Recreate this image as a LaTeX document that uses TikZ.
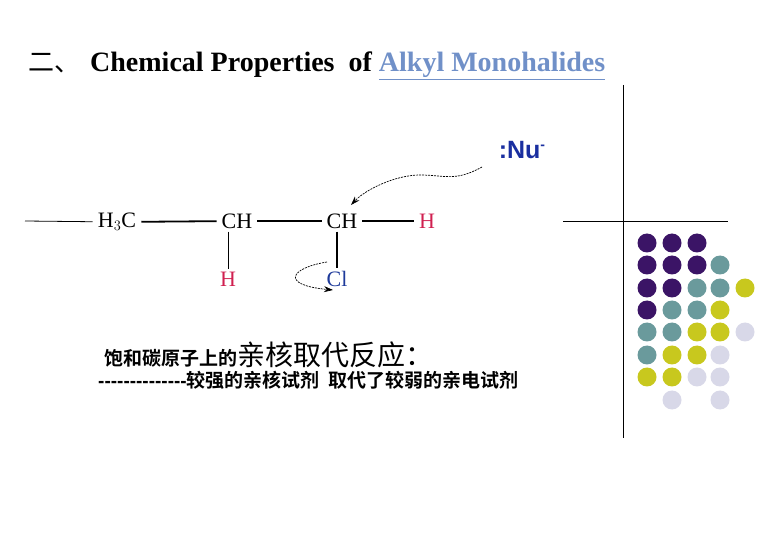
\documentclass[tikz,border=0pt]{standalone}
\usepackage{fontspec}
\setmainfont{Liberation Serif}
\newfontfamily\cjk{Noto Sans CJK SC}
\newfontfamily\cjkb{Noto Sans CJK SC}[BoldFont={* Bold}]
\newfontfamily\arial{Liberation Sans}
\usetikzlibrary{arrows.meta}
\definecolor{pur}{HTML}{3B1466}
\definecolor{tea}{HTML}{6A9A9C}
\definecolor{yel}{HTML}{C8C81E}
\definecolor{lav}{HTML}{D8D8E8}
\definecolor{hred}{HTML}{D02050}
\definecolor{clb}{HTML}{1E3A9A}
\definecolor{nub}{HTML}{1A2FA0}
\definecolor{lnk}{HTML}{7090C8}
\tikzset{atom/.style={inner xsep=5pt,inner ysep=3pt,font=\fontsize{22}{22}\selectfont},
bond/.style={line width=1.8pt},thin bond/.style={line width=0.8pt},
dot/.style={circle,minimum size=19pt,inner sep=0pt}}
\begin{document}
\begin{tikzpicture}[x=1pt,y=-1pt]
\useasboundingbox (0,0) rectangle (780,540);
\node[anchor=west,inner sep=0] (title) at (28,66) {{\cjk\fontsize{26}{26}\selectfont 二、}\hspace{10pt}\fontsize{28}{28}\selectfont\bfseries Chemical Properties\ \ of \textcolor{lnk}{\underline{Alkyl Monohalides}}};
\draw[line width=0.7pt] (623,85) -- (623,438);
\draw[line width=0.7pt] (563,221) -- (728,221);
% molecule
\coordinate (L) at (25,221);
\node[atom] (c1) at (117,222) {H$_3$C};
\node[atom] (c2) at (237,221) {CH};
\node[atom] (c3) at (342,221) {CH};
\node[atom,text=hred] (h1) at (427,221) {H};
\node[atom,text=hred] (h2) at (228,279) {H};
\node[atom,text=clb] (cl) at (337,279) {Cl};
\node[inner sep=1pt,text=nub,font=\arial\bfseries\fontsize{25}{25}\selectfont] (nu) at (522,150) {:Nu\raisebox{9pt}{\fontsize{14}{14}\selectfont -}};
\draw[thin bond] (L) -- (c1);
\draw[bond] (c1) -- (c2);
\draw[bond] (c2) -- (c3);
\draw[bond] (c3) -- (h1);
\draw[thin bond] (c2.south -| h2) -- (h2);
\draw[bond] (c3.south -| cl) -- (cl);
\draw[dashed,dash pattern=on 2pt off 1pt,line width=0.7pt,-{Stealth[length=9pt,width=6pt]}] (482,167) .. controls (455,182) and (445,175) .. (420,175) .. controls (395,175) and (365,190) .. (351,205);
\draw[dashed,dash pattern=on 2pt off 1pt,line width=0.7pt,-{Stealth[length=9pt,width=6pt]}] (327,262) .. controls (290,268) and (280,285) .. (333,290);
% text
\node[anchor=west,inner sep=0,font=\cjkb] (t1) at (104,355) {{\bfseries\fontsize{19}{19}\selectfont 饱和碳原子上的}{\fontsize{28}{28}\selectfont 亲核取代反应：}};
\node[anchor=west,inner sep=0,font=\cjkb\bfseries\fontsize{19}{19}\selectfont] (t2) at (98,380) {{\arial --------------}较强的亲核试剂\ \ 取代了较弱的亲电试剂};
% dots
\foreach \x/\y/\c in {647/243/pur,672/243/pur,697/243/pur,
647/265/pur,672/265/pur,697/265/pur,720/265/tea,
647/288/pur,672/288/pur,697/288/tea,720/288/tea,745/288/yel,
647/310/pur,672/310/tea,697/310/tea,720/310/yel,
647/332/tea,672/332/tea,697/332/yel,720/332/yel,745/332/lav,
647/355/tea,672/355/yel,697/355/yel,720/355/lav,
647/377/yel,672/377/yel,697/377/lav,720/377/lav,
672/400/lav,720/400/lav}
  \node[dot,fill=\c] (d\x-\y) at (\x,\y) {};
\end{tikzpicture}
\end{document}
